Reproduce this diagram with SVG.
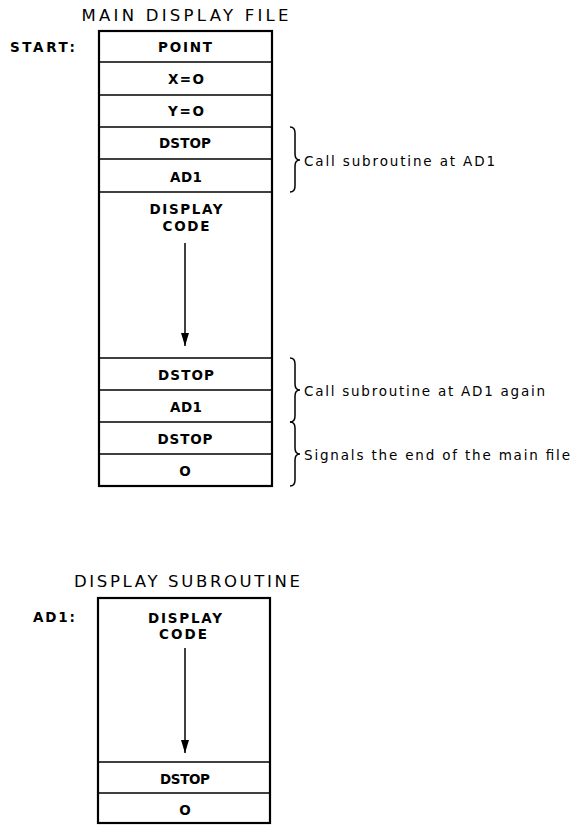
<svg xmlns="http://www.w3.org/2000/svg" width="572" height="826" viewBox="0 0 572 826">
<style>
.box{fill:#fff;stroke:#000;stroke-width:2.2}
.sep{stroke:#000;stroke-width:1.6}
.lbl{font-family:"DejaVu Sans","Liberation Sans",sans-serif;font-size:13.5px;font-weight:bold;text-anchor:middle;fill:#000}
.ttl{font-family:"DejaVu Sans","Liberation Sans",sans-serif;font-size:16.5px;text-anchor:middle;fill:#000}
.side{font-family:"DejaVu Sans","Liberation Sans",sans-serif;font-size:13.5px;font-weight:bold;fill:#000}
.note{font-family:"DejaVu Sans","Liberation Sans",sans-serif;font-size:13.5px;fill:#000}
.brace{fill:none;stroke:#000;stroke-width:1.5}
.arr{stroke:#000;stroke-width:1.5}
</style>
<defs>
<marker id="ah" markerWidth="13" markerHeight="8" refX="13" refY="4" orient="auto" markerUnits="userSpaceOnUse" viewBox="0 0 13 8">
<path d="M0,0 L13,4 L0,8 Z" fill="#000"/>
</marker>
</defs>
<g id="main-file">
<text class="ttl" x="185" y="21" textLength="207" lengthAdjust="spacing">MAIN DISPLAY FILE</text>
<text class="side" x="10" y="52" textLength="65" lengthAdjust="spacing">START:</text>
<rect class="box" x="99" y="31" width="173" height="455"/>
<line class="sep" x1="99" y1="62" x2="272" y2="62"/>
<line class="sep" x1="99" y1="95" x2="272" y2="95"/>
<line class="sep" x1="99" y1="127" x2="272" y2="127"/>
<line class="sep" x1="99" y1="159" x2="272" y2="159"/>
<line class="sep" x1="99" y1="192" x2="272" y2="192"/>
<line class="sep" x1="99" y1="358" x2="272" y2="358"/>
<line class="sep" x1="99" y1="390" x2="272" y2="390"/>
<line class="sep" x1="99" y1="422" x2="272" y2="422"/>
<line class="sep" x1="99" y1="454" x2="272" y2="454"/>
<text class="lbl" x="185" y="52" textLength="54" lengthAdjust="spacing">POINT</text>
<text class="lbl" x="186" y="84" textLength="36" lengthAdjust="spacing">X=O</text>
<text class="lbl" x="186" y="116" textLength="36" lengthAdjust="spacing">Y=O</text>
<text class="lbl" x="185" y="148" textLength="52" lengthAdjust="spacing">DSTOP</text>
<text class="lbl" x="186" y="182" textLength="32" lengthAdjust="spacing">AD1</text>
<text class="lbl" x="186" y="214" textLength="73" lengthAdjust="spacing">DISPLAY</text>
<text class="lbl" x="186" y="231" textLength="47" lengthAdjust="spacing">CODE</text>
<text class="lbl" x="186" y="380" textLength="56" lengthAdjust="spacing">DSTOP</text>
<text class="lbl" x="186" y="412" textLength="32" lengthAdjust="spacing">AD1</text>
<text class="lbl" x="185" y="444" textLength="55" lengthAdjust="spacing">DSTOP</text>
<text class="lbl" x="185" y="476">O</text>
</g>
<g id="subroutine">
<text class="ttl" x="187" y="587" textLength="226" lengthAdjust="spacing">DISPLAY SUBROUTINE</text>
<text class="side" x="33" y="622" textLength="42" lengthAdjust="spacing">AD1:</text>
<rect class="box" x="98" y="598" width="172" height="225"/>
<line class="sep" x1="98" y1="762" x2="270" y2="762"/>
<line class="sep" x1="98" y1="793" x2="270" y2="793"/>
<text class="lbl" x="185" y="623" textLength="74" lengthAdjust="spacing">DISPLAY</text>
<text class="lbl" x="183" y="639" textLength="48" lengthAdjust="spacing">CODE</text>
<text class="lbl" x="185" y="784" textLength="50" lengthAdjust="spacing">DSTOP</text>
<text class="lbl" x="185" y="815">O</text>
</g>
<g id="annotations">
<path class="brace" d="M290,127 Q295,127 295,133 L295,154 Q295,160 300,160 Q295,160 295,166 L295,186 Q295,192 290,192"/>
<text class="note" x="304" y="166" textLength="191" lengthAdjust="spacing">Call subroutine at AD1</text>
<path class="brace" d="M290,358 Q295,358 295,364 L295,384 Q295,390 300,390 Q295,390 295,396 L295,416 Q295,422 290,422"/>
<text class="note" x="304" y="396" textLength="241" lengthAdjust="spacing">Call subroutine at AD1 again</text>
<path class="brace" d="M290,422 Q295,422 295,428 L295,448 Q295,454 300,454 Q295,454 295,460 L295,480 Q295,486 290,486"/>
<text class="note" x="304" y="460" textLength="266" lengthAdjust="spacing">Signals the end of the main file</text>
</g>
<g id="connectors">
<line class="arr" x1="185" y1="243" x2="185" y2="346" marker-end="url(#ah)"/>
<line class="arr" x1="185" y1="648" x2="185" y2="753" marker-end="url(#ah)"/>
</g>
</svg>
